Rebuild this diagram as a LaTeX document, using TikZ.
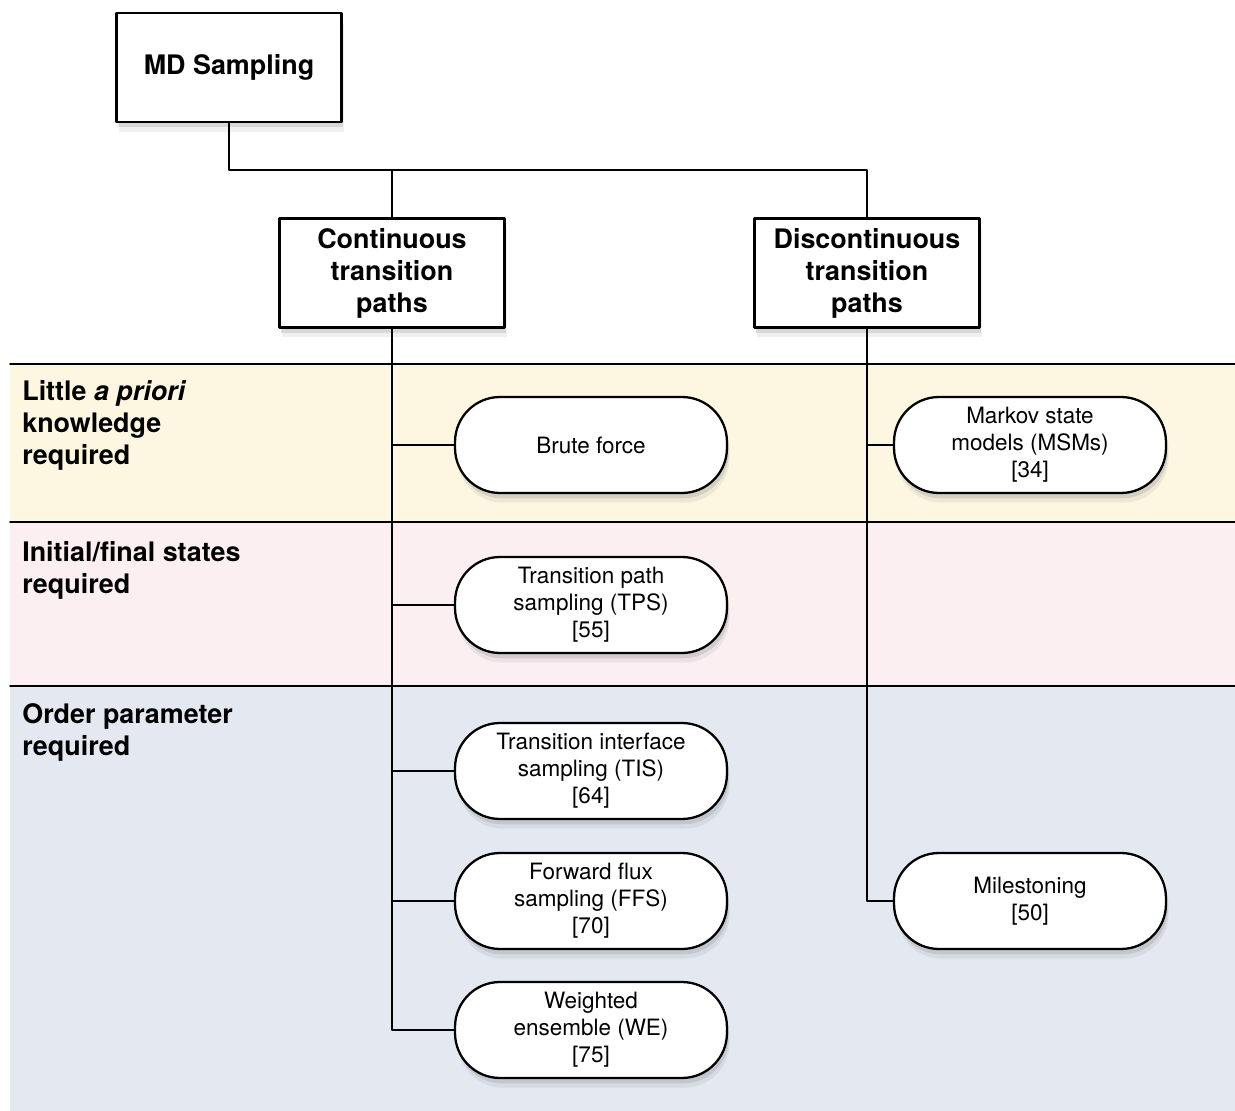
\documentclass[tikz,border=0pt]{standalone}
\usepackage{fontspec}
\setmainfont{TeX Gyre Heros}
\usetikzlibrary{shadows}
\definecolor{bandyellow}{RGB}{253,247,225}
\definecolor{bandpink}{RGB}{251,239,242}
\definecolor{bandblue}{RGB}{227,232,241}
\begin{document}
\begin{tikzpicture}[line cap=round, line join=round, x=0.02cm, y=-0.02cm,
  soft shadow/.style={drop shadow={shadow xshift=1.5pt, shadow yshift=-5.5pt, opacity=0.12},
    drop shadow={shadow xshift=1pt, shadow yshift=-3pt, opacity=0.22}},
  catbox/.style={draw, line width=1.3pt, fill=white, minimum width=4.5cm, minimum height=2.18cm,
    align=center, font=\fontsize{15.3}{18.2}\selectfont\bfseries, soft shadow},
  method/.style={draw, line width=1.3pt, fill=white, rounded corners=0.9cm, minimum width=5.44cm,
    minimum height=1.92cm, align=center, font=\fontsize{12.8}{15.3}\selectfont, soft shadow},
  rowlabel/.style={anchor=north west, inner sep=0pt, align=left, font=\fontsize{15.3}{18.2}\selectfont\bfseries},
  link/.style={line width=1.1pt}]
\useasboundingbox (0,0) rectangle (1235,1111);
% bands
\fill[bandyellow] (10,364) rectangle (1235,522);
\fill[bandpink] (10,522) rectangle (1235,686);
\fill[bandblue] (10,686) rectangle (1235,1111);
\foreach \y in {364,522,686} \draw[link] (10,\y) -- (1235,\y);
\node[rowlabel] (little) at (22,380) {Little \textit{a priori}\\knowledge\\required};
\node[rowlabel] (initial) at (22,541) {Initial/final states\\required};
\node[rowlabel] (order) at (22,703) {Order parameter\\required};
% tree
\node[catbox] (md) at (229,67.5) {MD Sampling};
\node[catbox] (cont) at (392,273) {Continuous\\transition\\paths};
\node[catbox] (disc) at (867,273) {Discontinuous\\transition\\paths};
\node[method] (brute) at (591,445) {Brute force};
\node[method] (tps) at (591,605) {Transition path\\sampling (TPS)\\{[55]}};
\node[method] (tis) at (591,771) {Transition interface\\sampling (TIS)\\{[64]}};
\node[method] (ffs) at (591,901) {Forward flux\\sampling (FFS)\\{[70]}};
\node[method] (we) at (591,1030) {Weighted\\ensemble (WE)\\{[75]}};
\node[method] (msm) at (1030,445) {Markov state\\models (MSMs)\\{[34]}};
\node[method] (mile) at (1030,901) {Milestoning\\{[50]}};
\coordinate (fork) at (867,170);
\draw[link] (md.south) |- (fork) -- (disc.north);
\draw[link] (cont.north |- fork) -- (cont.north);
\draw[link] (cont.south) |- (we.west);
\foreach \m in {brute,tps,tis,ffs} \draw[link] (cont.south |- \m.west) -- (\m.west);
\draw[link] (disc.south) |- (mile.west);
\draw[link] (disc.south |- msm.west) -- (msm.west);
\end{tikzpicture}
\end{document}
